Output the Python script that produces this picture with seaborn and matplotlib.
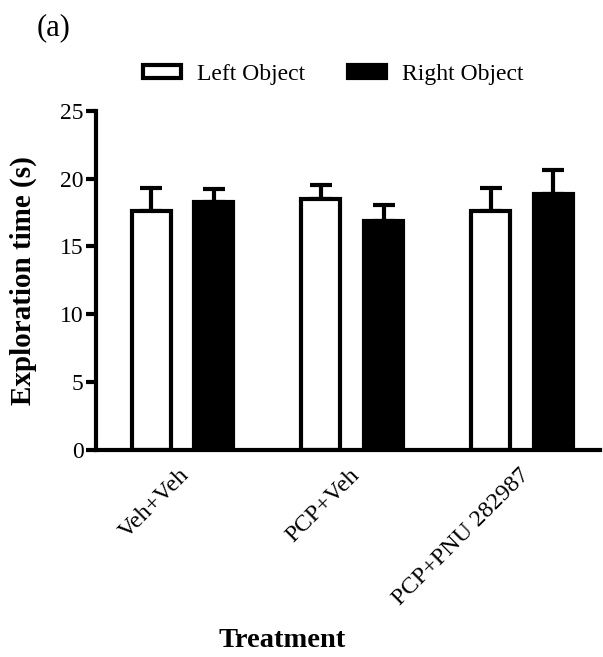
import numpy as np
import pandas as pd
import matplotlib
matplotlib.use("Agg")
import matplotlib.pyplot as plt
import matplotlib.transforms as mtransforms
import seaborn as sns
from matplotlib.patches import Patch

# data
treatments = ["Veh+Veh", "PCP+Veh", "PCP+PNU 282987"]
objects = ["Left Object", "Right Object"]
left_mean = [17.6, 18.5, 17.6]
left_sem = [1.7, 1.0, 1.7]
right_mean = [18.3, 16.9, 18.9]
right_sem = [0.9, 1.15, 1.7]

df = pd.DataFrame({
    "Treatment": treatments * 2,
    "Object": [objects[0]] * 3 + [objects[1]] * 3,
    "time": left_mean + right_mean,
})

sns.set_style("ticks", {"axes.edgecolor": "black", "xtick.color": "black",
                        "ytick.color": "black", "text.color": "black",
                        "axes.labelcolor": "black"})
plt.rcParams["font.family"] = ["Liberation Serif", "DejaVu Serif"]

fig = plt.figure(figsize=(6.03, 6.57), dpi=100)
ax = fig.add_axes([0.159, 0.315, 0.836, 0.5165])

sns.barplot(data=df, x="Treatment", y="time", hue="Object", order=treatments,
            hue_order=objects, palette=["white", "black"], edgecolor="black",
            linewidth=3, width=0.74, gap=0.38, errorbar=None, legend=False, ax=ax)

# upward-only SEM bars
for cont, errs in zip(ax.containers, [left_sem, right_sem]):
    xs = [b.get_x() + b.get_width() / 2 for b in cont]
    ys = [b.get_height() for b in cont]
    ax.errorbar(xs, ys, yerr=[[0] * len(errs), errs], fmt="none", ecolor="black",
                elinewidth=3, capsize=8, capthick=3, zorder=0)

ax.set_ylim(0, 25)
ax.set_xlim(-0.51, 2.46)
ax.set_yticks([0, 5, 10, 15, 20, 25])
sns.despine(ax=ax)
for s in ["left", "bottom"]:
    ax.spines[s].set_linewidth(3)
ax.tick_params(axis="y", direction="out", length=7, width=3, labelsize=17, pad=2)
ax.tick_params(axis="x", length=0, labelsize=17.5, pad=16)
shift = mtransforms.ScaledTranslation(4 / 100, 0, fig.dpi_scale_trans)
for lab in ax.get_xticklabels():
    lab.set_rotation(45)
    lab.set_ha("right")
    lab.set_va("center")
    lab.set_rotation_mode("anchor")
    lab.set_transform(lab.get_transform() + shift)

ax.set_ylabel("Exploration time (s)", fontsize=21, fontweight="bold")
ax.yaxis.set_label_coords(-0.117, 0.5)
ax.set_xlabel("Treatment", fontsize=20.5, fontweight="bold")
ax.xaxis.set_label_coords(0.369, -0.525)

handles = [Patch(facecolor="white", edgecolor="black", linewidth=3),
           Patch(facecolor="black", edgecolor="black", linewidth=3)]
fig.legend(handles, objects, loc="center", bbox_to_anchor=(0.553, 0.887), ncol=2,
           frameon=False, fontsize=17, handlelength=1.6, handleheight=0.45,
           columnspacing=1.8, handletextpad=0.7)

fig.text(0.061, 0.958, "(a)", fontsize=22, va="center", ha="left")

fig.savefig("out.png", dpi=100)
